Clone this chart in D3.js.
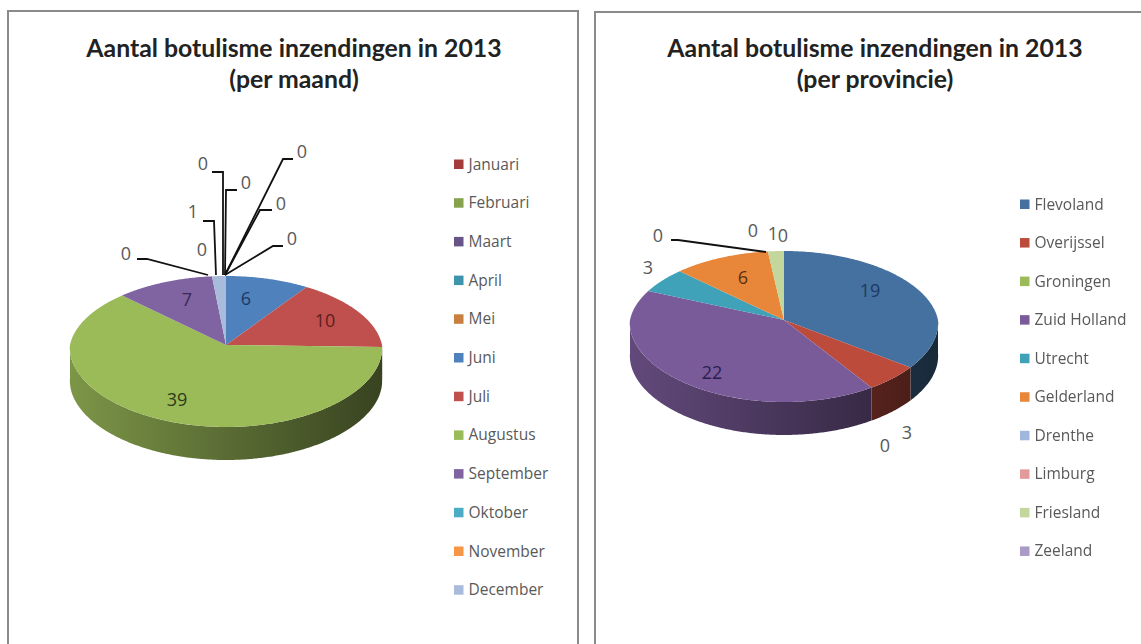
<!DOCTYPE html>
<html>
<head>
<meta charset="utf-8">
<script src="https://cdnjs.cloudflare.com/ajax/libs/d3/7.8.5/d3.min.js"></script>
<style>
html,body{margin:0;padding:0;background:#fff;overflow:hidden}
svg{display:block;filter:blur(0.45px)}
</style>
</head>
<body>
<svg id="c" width="1141" height="644"></svg>
<script>
// Data
const months = ["Januari","Februari","Maart","April","Mei","Juni","Juli","Augustus","September","Oktober","November","December"];
const monthValues = [0,0,0,0,0,6,10,39,7,0,0,1];
const monthColors = ["#a33c3a","#86a24c","#675589","#3d94ad","#c9803f","#4f81bd","#c0504d","#9bbb59","#8064a2","#4bacc6","#f79646","#a9bbdb"];
const provinces = ["Flevoland","Overijssel","Groningen","Zuid Holland","Utrecht","Gelderland","Drenthe","Limburg","Friesland","Zeeland"];
const provinceValues = [19,3,0,22,3,6,0,0,1,0];
const provinceColors = ["#44719f","#bd4b3c","#9bbb59","#7a5b9a","#3fa2b8","#e8873a","#a0b6de","#e39a9a","#c3d69b","#a99bc6"];

// Layout (offsets from each pie's apex)
const monthLabelPos = [[-23,-182],[20,-163],[76,-194],[55,-142],[66,-107],[20,-47],[99,-25],[-49,54],[-39,-46],[-100,-92],[-24,-96],[-33,-134]];
const monthLeaders = [
  [[-3,-70],[-3,-173],[-14,-173]],
  [[-1,-70],[0,-155],[11,-155]],
  [[-1,-70],[57,-186],[67,-186]],
  [[-1,-70],[34,-135],[46,-135]],
  [[-1,-70],[47,-99],[57,-99]],
  null,null,null,null,
  [[-18,-70],[-79,-86],[-89,-86]],
  null,
  [[-10,-70],[-12,-124],[-23,-124]]
];
const provinceLabelPos = [[86,-30],[123,112],[101,125],[-72,52],[-136,-53],[-41,-43],[-126,-85],[-31,-90],[-11,-87],[-1,-85]];
const provinceLeaders = [null,null,null,null,null,null,[[-18,-68],[-106,-80],[-113,-80]],null,null,null];
const monthInk = ["#595959","#595959","#595959","#595959","#595959","#1f3864","#5e1e1c","#2e3a1a","#3a2a55","#595959","#595959","#595959"];
const provinceInk = ["#1f3864","#595959","#595959","#2a2050","#595959","#5a3010","#595959","#595959","#595959","#595959"];

const panels = [
  {x:8,y:11,w:570,h:660,titleX:294,titleLines:["Aantal botulisme inzendingen in 2013","(per maand)"],
   names:months,values:monthValues,colors:monthColors,ink:monthInk,cx:226,cy:345,rx:156,
   labelPos:monthLabelPos,leaders:monthLeaders,legendX:454,legendY:164,legendStep:38.7},
  {x:595,y:12,w:560,h:660,titleX:875,titleLines:["Aantal botulisme inzendingen in 2013","(per provincie)"],
   names:provinces,values:provinceValues,colors:provinceColors,ink:provinceInk,cx:784,cy:320,rx:154,
   labelPos:provinceLabelPos,leaders:provinceLeaders,legendX:1020,legendY:204,legendStep:38.55}
];
const ryTop = 69, ryBottom = 82, depth = 33;

const svg = d3.select("#c");
const defs = svg.append("defs");
const tau = Math.PI*2;
const pieGen = d3.pie().sort(null).startAngle(0).endAngle(tau);
const lineGen = d3.line();
const leaderGen = d3.line();
const shade = d3.scaleLinear().domain([0,0.5,1]).range([0.8,0.58,0.36]);

panels.forEach((p,pi)=>{
  const g = svg.append("g");
  g.append("rect").attr("x",p.x).attr("y",p.y).attr("width",p.w).attr("height",p.h)
    .attr("fill","#fff").attr("stroke","#8a8a8a").attr("stroke-width",2);

  g.selectAll("text.title").data(p.titleLines).join("text").attr("class","title")
    .attr("x",p.titleX).attr("y",(d,i)=>57+i*31)
    .attr("text-anchor","middle").attr("font-family","Lato, sans-serif")
    .attr("font-weight",700).attr("font-size",24.8).attr("fill","#222").text(d=>d);

  const rm = (ryTop+ryBottom)/2, k=(ryBottom-ryTop)/2;
  const proj = (a,r=1,dz=0)=>{
    const u=Math.sin(a)*r, v=-Math.cos(a)*r;
    const widen = v<0 ? 1+0.1*v : 1+0.04*v;
    return [p.cx+u*p.rx*widen, p.cy+v*(rm+k*v)+dz];
  };
  const arcs = pieGen(p.values).map((d,i)=>({...d,i}));
  const sample = (a,b)=>{
    const n=Math.max(2,Math.ceil((b-a)/0.01));
    return d3.range(n+1).map(j=>a+(b-a)*j/n);
  };

  // side wall
  arcs.forEach(d=>{
    const a=Math.max(d.startAngle,Math.PI/2), b=Math.min(d.endAngle,Math.PI*1.5);
    if(b<=a) return;
    const id=`g${pi}_${d.i}`;
    const lg=defs.append("linearGradient").attr("id",id).attr("gradientUnits","userSpaceOnUse")
      .attr("x1",p.cx-p.rx).attr("x2",p.cx+p.rx).attr("y1",0).attr("y2",0);
    const c=d3.rgb(p.colors[d.i]);
    [0,0.5,1].forEach(t=>{
      const s=shade(t);
      lg.append("stop").attr("offset",t).attr("stop-color",d3.rgb(c.r*s,c.g*s,c.b*s).formatHex());
    });
    const angs=sample(a,b);
    const pts=angs.map(t=>proj(t)).concat(angs.slice().reverse().map(t=>proj(t,1,depth)));
    g.append("path").attr("d",lineGen(pts)+"Z").attr("fill",`url(#${id})`);
  });

  // top face
  arcs.forEach(d=>{
    if(d.endAngle<=d.startAngle) return;
    const pts=[[p.cx,p.cy]].concat(sample(d.startAngle,d.endAngle).map(t=>proj(t)));
    g.append("path").attr("d",lineGen(pts)+"Z").attr("fill",p.colors[d.i]);
  });

  // leader lines
  p.leaders.forEach(l=>{
    if(!l) return;
    g.append("path").attr("d",leaderGen(l.map(q=>[p.cx+q[0],p.cy+q[1]])))
      .attr("fill","none").attr("stroke","#111").attr("stroke-width",1.8);
  });

  // data labels
  g.selectAll("text.val").data(p.values).join("text").attr("class","val")
    .attr("x",(d,i)=>p.cx+p.labelPos[i][0]).attr("y",(d,i)=>p.cy+p.labelPos[i][1]+6.5)
    .attr("text-anchor","middle").attr("font-family","'Open Sans', sans-serif")
    .attr("font-size",18).attr("fill",(d,i)=>p.ink[i]).text(d=>d);

  // legend
  const ly=d3.scaleLinear().domain([0,1]).range([p.legendY,p.legendY+p.legendStep]);
  const lg=g.selectAll("g.leg").data(p.names).join("g").attr("class","leg")
    .attr("transform",(d,i)=>`translate(${p.legendX},${ly(i)})`);
  lg.append("rect").attr("x",0).attr("y",-4.5).attr("width",9.5).attr("height",9.5).attr("fill",(d,i)=>p.colors[i]);
  lg.append("text").attr("x",14.5).attr("y",5.5).attr("font-family","'Open Sans', sans-serif")
    .attr("font-size",15.5).attr("fill","#595959").text(d=>d);
});
</script>
</body>
</html>
